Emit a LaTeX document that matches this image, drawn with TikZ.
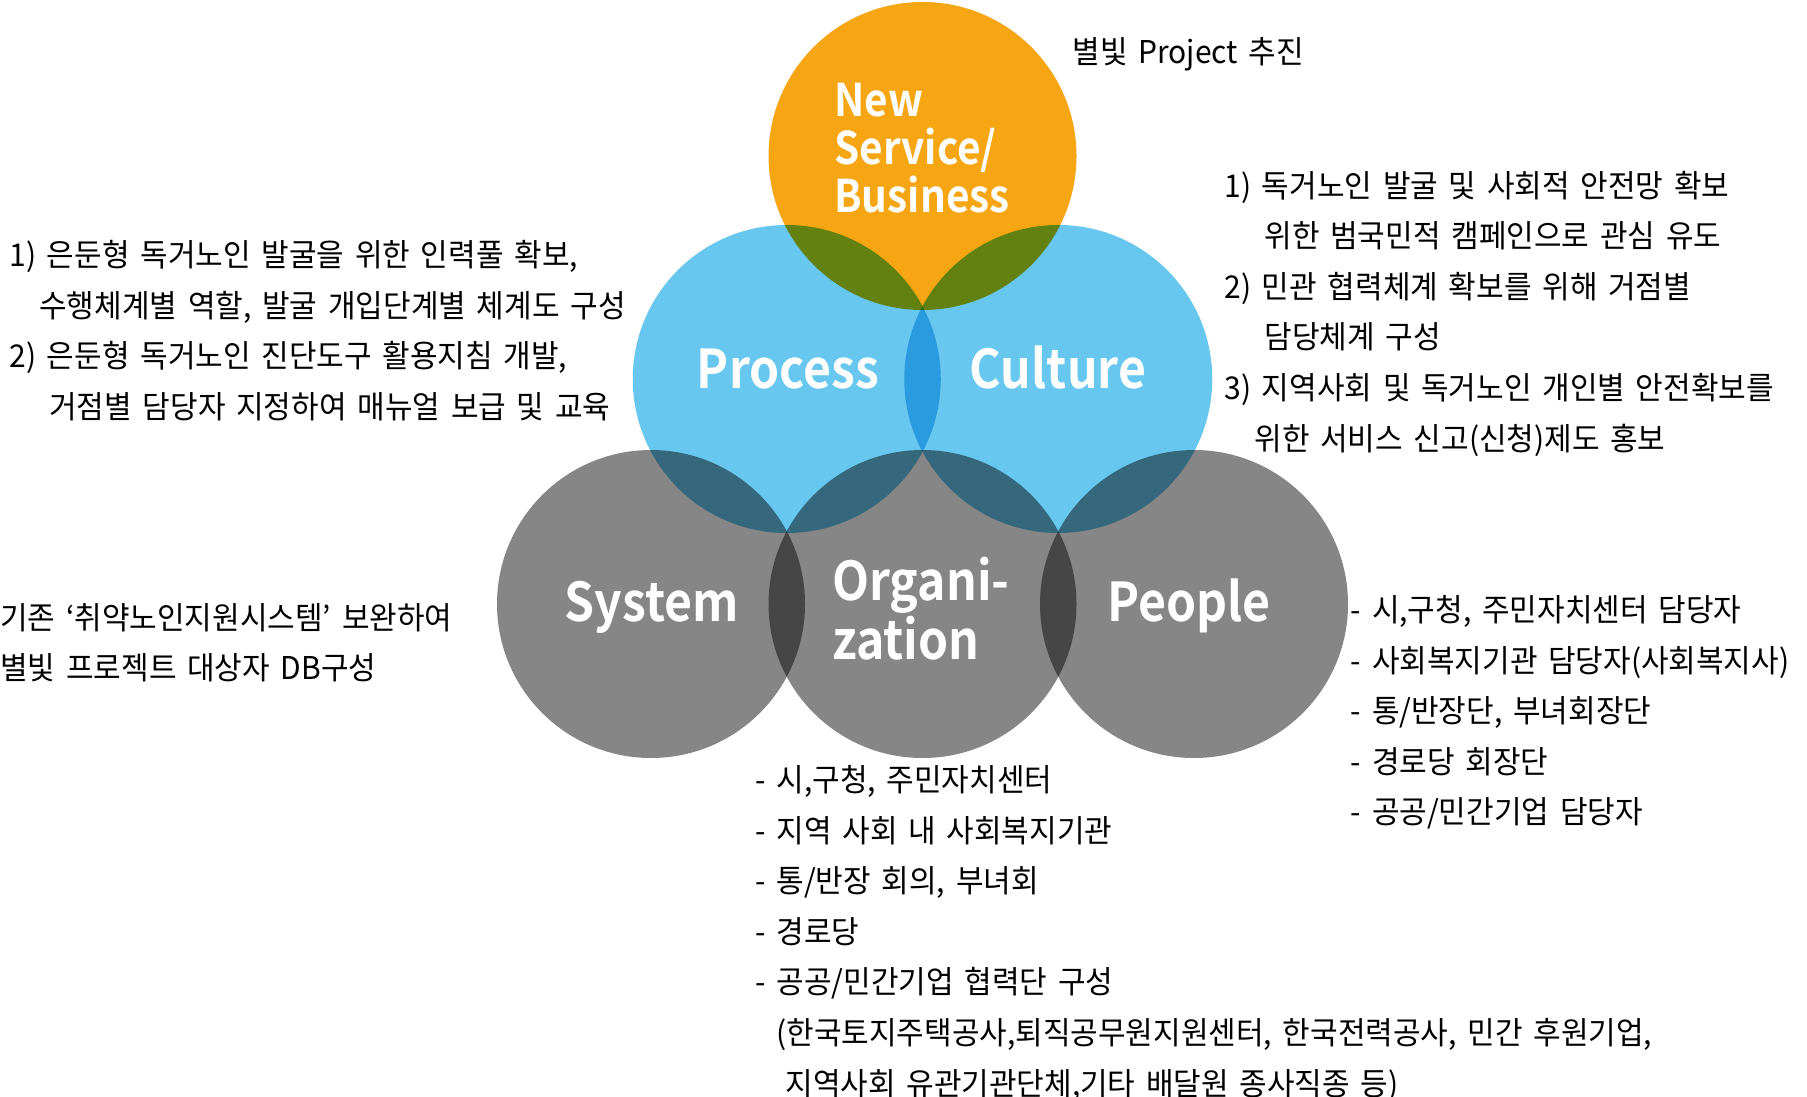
\documentclass[tikz,border=0pt]{standalone}
\usepackage{fontspec}
\setmainfont{Noto Sans CJK KR}[FakeStretch=0.955,WordSpace=1.6]
\newfontfamily\lblfont{Noto Sans CJK KR Bold}[FakeStretch=0.9]
\definecolor{nsbcol}{RGB}{246,166,18}
\definecolor{pccol}{RGB}{103,199,238}
\definecolor{sopcol}{RGB}{134,134,134}

\begin{document}
\begin{tikzpicture}[x=0.5pt,y=-0.5pt,
  bubble/.style={circle,minimum size=154pt,inner sep=0pt},
  lbl/.style={text=white,inner sep=0pt,anchor=base,
    font=\lblfont\fontsize{26.75}{27}\selectfont},
  note/.style={anchor=north west,align=left,inner sep=0pt,
    font=\fontsize{15.7}{25.3}\selectfont}]
  \useasboundingbox[fill=white] (0,0) rectangle (1807,1096);

  % the six bubbles, overlaps multiplied
  \begin{scope}[blend mode=multiply]
    \node[bubble,fill=nsbcol] (NS) at (922.5,156) {};
    \node[bubble,fill=pccol]  (P)  at (786.75,379) {};
    \node[bubble,fill=pccol]  (C)  at (1058.25,379) {};
    \node[bubble,fill=sopcol] (S)  at (651,604) {};
    \node[bubble,fill=sopcol] (O)  at (922.5,604) {};
    \node[bubble,fill=sopcol] (Pe) at (1194,604) {};
  \end{scope}

  % labels
  \node[lbl,anchor=north west,align=left,
    font=\lblfont\fontsize{22.5}{24}\selectfont] (NSl) at (834,83)
    {New\\Service/\\Business};
  \node[lbl] (Pl)  at (788,388.5) {Process};
  \node[lbl] (Cl)  at (1058,388.5) {Culture};
  \node[lbl] (Sl)  at (652,621) {System};
  \node[lbl] (Pel) at (1189,621) {People};
  \node[lbl,anchor=north west,align=left] (Ol) at (832,557)
    {Organi-\\zation};

  % notes
  \node[note] (NSn) at (1072,37) {별빛 Project 추진};
  \node[note] (Cn) at (1224,170.5) {1) 독거노인 발굴 및 사회적 안전망 확보\\
    \hspace*{20pt}위한 범국민적 캠페인으로 관심 유도\\
    2) 민관 협력체계 확보를 위해 거점별\\
    \hspace*{20pt}담당체계 구성\\
    3) 지역사회 및 독거노인 개인별 안전확보를\\
    \hspace*{15pt}위한 서비스 신고(신청)제도 홍보};
  \node[note] (Pn) at (9,240) {1) 은둔형 독거노인 발굴을 위한 인력풀 확보,\\
    \hspace*{15pt}수행체계별 역할, 발굴 개입단계별 체계도 구성\\
    2) 은둔형 독거노인 진단도구 활용지침 개발,\\
    \hspace*{20pt}거점별 담당자 지정하여 매뉴얼 보급 및 교육};
  \node[note] (Sn) at (0,603) {기존 ‘취약노인지원시스템’ 보완하여\\
    별빛 프로젝트 대상자 DB구성};
  \node[note] (Pen) at (1350.5,595) {- 시,구청, 주민자치센터 담당자\\
    - 사회복지기관 담당자(사회복지사)\\
    - 통/반장단, 부녀회장단\\
    - 경로당 회장단\\
    - 공공/민간기업 담당자};
  \node[note] (On) at (755,765) {- 시,구청, 주민자치센터\\
    - 지역 사회 내 사회복지기관\\
    - 통/반장 회의, 부녀회\\
    - 경로당\\
    - 공공/민간기업 협력단 구성\\
    \hspace*{10.5pt}(한국토지주택공사,퇴직공무원지원센터, 한국전력공사, 민간 후원기업,\\
    \hspace*{15pt}지역사회 유관기관단체,기타 배달원 종사직종 등)};
\end{tikzpicture}
\end{document}
